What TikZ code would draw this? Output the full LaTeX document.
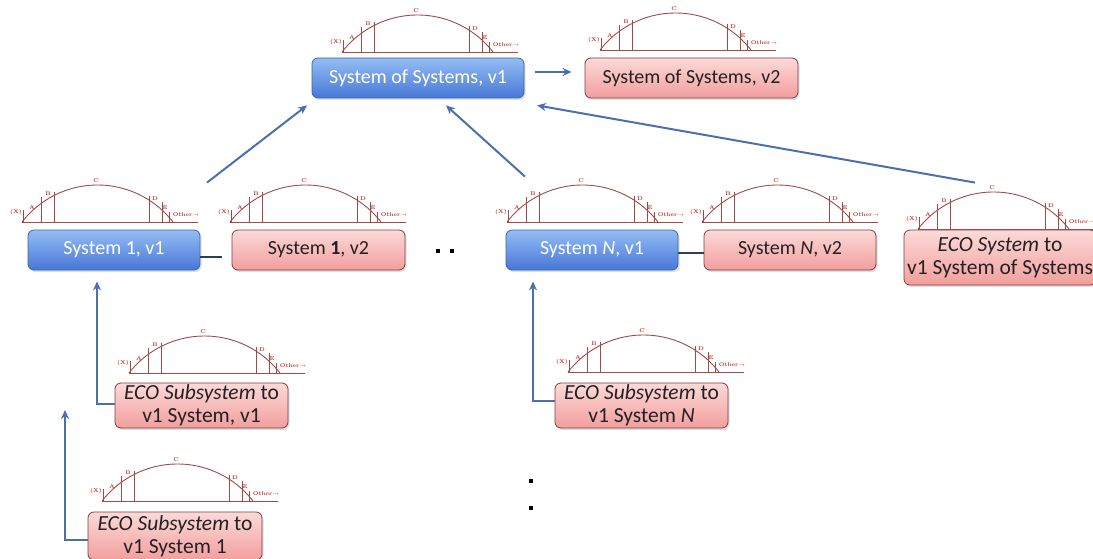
\documentclass[tikz,border=0pt]{standalone}
\usepackage{fontspec}
\setsansfont{Carlito}
\usetikzlibrary{arrows.meta,shadows}
\definecolor{blueT}{HTML}{95BDF4}
\definecolor{blueB}{HTML}{4677D6}
\definecolor{blueD}{HTML}{3A66B4}
\definecolor{pinkT}{HTML}{FCDAD8}
\definecolor{pinkB}{HTML}{F29E9E}
\definecolor{pinkD}{HTML}{7E4040}
\definecolor{arr}{HTML}{4A70AE}
\definecolor{lcc}{HTML}{A04A4A}
\definecolor{lcl}{HTML}{C0392B}
\definecolor{dk}{HTML}{2C3E5A}
\definecolor{txt}{HTML}{222222}
\tikzset{
  box/.style={rounded corners=6pt, minimum height=40pt, inner sep=0pt, align=center,
    font=\sffamily\fontsize{20}{23}\selectfont,
    drop shadow={opacity=0.25,shadow xshift=1.5pt,shadow yshift=-2pt}},
  two/.style={font=\sffamily\fontsize{21.5}{23}\selectfont},
  bluebox/.style={box, draw=blueD, line width=0.8pt, top color=blueT, bottom color=blueB, text=white},
  pinkbox/.style={box, draw=pinkD, line width=0.8pt, top color=pinkT, bottom color=pinkB, text=txt},
  link/.style={draw=arr, line width=2pt, -{Stealth[length=9pt,width=8pt]}},
  dklink/.style={draw=dk, line width=2.5pt},
  lbl/.style={inner sep=0pt, text=lcl, font=\fontsize{5.5}{5.5}\selectfont\bfseries},
  lcline/.style={draw=lcc, line width=0.9pt},
  dot/.style={fill=black, minimum size=3.5pt, inner sep=0pt},
  lifecycle/.pic={
    \draw[lcline] (0,0) -- (176,0);
    \draw[lcline] plot[domain=0:151,samples=41,smooth] (\x,{58.5-sqrt(9120.25-(\x-75.5)^2)});
    \foreach \a/\h in {1/12,19/25,32/30,127/26,140/20,147/10}
      \draw[lcline] (\a,0) -- (\a,-\h);
    \node[lbl] (x) at (-6,-10) {(X)};
    \node[lbl] (a) at (10,-14) {A};
    \node[lbl] (b) at (26,-28) {B};
    \node[lbl] (c) at (74,-41) {C};
    \node[lbl] (d) at (133,-23) {D};
    \node[lbl] (e) at (143,-14) {E};
    \node[lbl] (o) at (164,-7) {Other$\rightarrow$};
  }
}
\begin{document}
\begin{tikzpicture}[x=1pt,y=-1pt]
\useasboundingbox (0,0) rectangle (1093,559);
% boxes
\node[bluebox, minimum width=212pt] (sos1) at (418,78) {System of Systems, v1};
\node[pinkbox, minimum width=213pt] (sos2) at (691.5,78) {System of Systems, v2};
\node[bluebox, minimum width=172pt] (s1v1) at (114,250) {System 1, v1};
\node[pinkbox, minimum width=173pt] (s1v2) at (318.5,250) {System \textbf{1}, v2};
\node[bluebox, minimum width=172pt] (sNv1) at (592,250) {System \textit{N}, v1};
\node[pinkbox, minimum width=172pt] (sNv2) at (790,250) {System \textit{N}, v2};
\node[pinkbox, two, minimum width=192pt, minimum height=55pt] (eco) at (1000,257.5) {\textit{ECO System} to\\v1 System of Systems};
\node[pinkbox, two, minimum width=173pt, minimum height=45pt] (e1) at (201.5,405.5) {\textit{ECO Subsystem} to\\v1 System, v1};
\node[pinkbox, two, minimum width=173pt, minimum height=45pt] (eN) at (641.5,405.5) {\textit{ECO Subsystem} to\\v1 System \textit{N}};
\node[pinkbox, two, minimum width=174pt, minimum height=48pt] (eS1) at (175,536) {\textit{ECO Subsystem} to\\v1 System 1};
% lifecycle glyphs
\pic (g1) at (342,52) {lifecycle};
\pic (g2) at (600,50) {lifecycle};
\pic (g3) at (22,222) {lifecycle};
\pic (g4) at (230,222) {lifecycle};
\pic (g5) at (507,222) {lifecycle};
\pic (g6) at (702,222) {lifecycle};
\pic (g7) at (918,229) {lifecycle};
\pic (g8) at (129,373) {lifecycle};
\pic (g9) at (568,372) {lifecycle};
\pic (g10) at (102,501) {lifecycle};
% dots
\node[dot] (d1) at (438,251) {};
\node[dot] (d2) at (452,251) {};
\node[dot] (d3) at (531,481) {};
\node[dot] (d4) at (531,508) {};
% connectors
\draw[link] ([xshift=11pt,yshift=6pt]sos1.east) -- ([xshift=-13pt,yshift=6pt]sos2.west);
\draw[link] ([xshift=93pt,yshift=47pt]s1v1.north) -- ([xshift=-111pt,yshift=-7pt]sos1.south);
\draw[link] ([xshift=-67pt,yshift=53pt]sNv1.north) -- ([xshift=28pt,yshift=-7pt]sos1.south);
\draw[link] ([xshift=-25pt,yshift=47pt]eco.north) -- ([xshift=119pt,yshift=-7pt]sos1.south);
\draw[dklink] ([yshift=-7pt]s1v1.east) -- ([xshift=-10pt,yshift=-7pt]s1v2.west);
\draw[dklink] ([yshift=-3pt]sNv1.east) -- ([yshift=-3pt]sNv2.west);
\draw[link] ([yshift=2pt]e1.west) -| ([xshift=-17pt,yshift=-11pt]s1v1.south);
\draw[link] ([yshift=5pt]eN.west) -| ([xshift=-59pt,yshift=-11pt]sNv1.south);
\coordinate (free1) at (65,410);
\draw[link] ([yshift=-4pt]eS1.west) -| (free1);
\end{tikzpicture}
\end{document}
